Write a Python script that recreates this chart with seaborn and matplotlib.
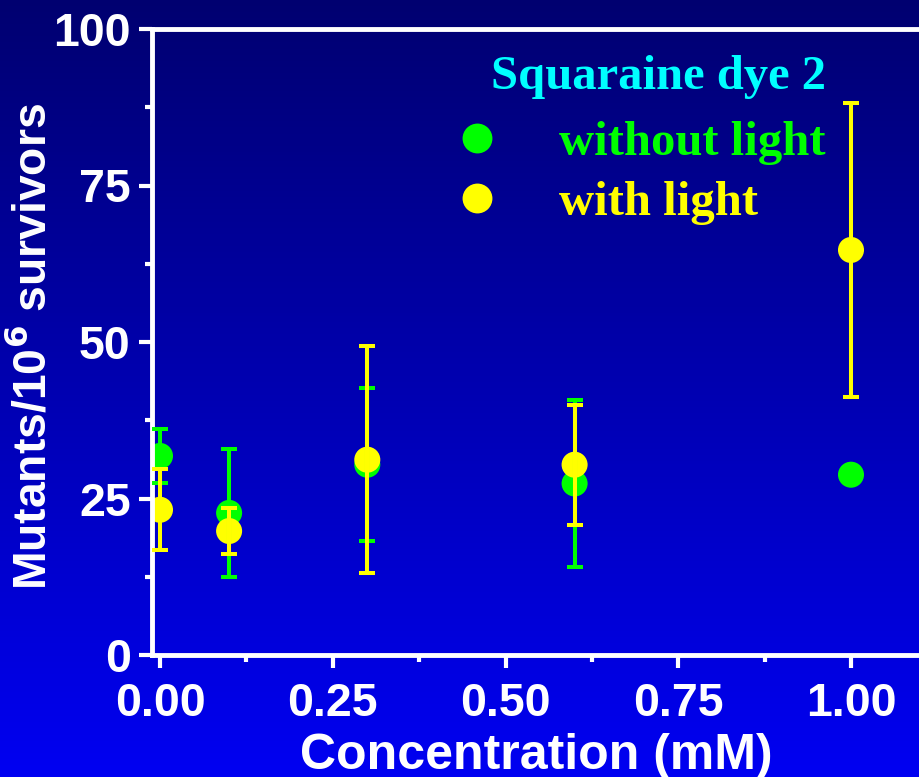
import numpy as np
import pandas as pd
import matplotlib
matplotlib.use("Agg")
import matplotlib.pyplot as plt
from matplotlib.lines import Line2D
from matplotlib.colors import LinearSegmentedColormap
import seaborn as sns

# Mutation frequency vs. dye concentration
conc = [0.0, 0.1, 0.3, 0.6, 1.0]
dark_mean = [31.8, 22.7, 30.4, 27.4, 28.8]
dark_err = [4.3, 10.2, 12.2, 13.3, 0.0]
light_mean = [23.2, 19.8, 31.2, 30.4, 64.7]
light_err = [6.5, 3.7, 18.1, 9.6, 23.5]

series_names = ["without light", "with light"]
series_colors = ["#00ff00", "#ffff00"]
legend_title = "Squaraine dye 2"
x_ticks = [0.0, 0.25, 0.5, 0.75, 1.0]
y_ticks = [0, 25, 50, 75, 100]

df = pd.DataFrame({
    "conc": conc * 2,
    "mean": dark_mean + light_mean,
    "err": dark_err + light_err,
    "group": [series_names[0]] * len(conc) + [series_names[1]] * len(conc),
})

sns.set_theme(style="white")
plt.rcParams["font.family"] = ["Liberation Sans", "DejaVu Sans"]

W, H = 920, 777
fig = plt.figure(figsize=(W / 100, H / 100), dpi=100)

# vertical navy-to-blue gradient behind everything
bg = fig.add_axes([0, 0, 1, 1], zorder=-10)
grad = np.linspace(0, 1, 256).reshape(-1, 1)
cmap = LinearSegmentedColormap.from_list("bg", ["#000070", "#0000f2"])
bg.imshow(grad, aspect="auto", cmap=cmap, extent=[0, 1, 0, 1], origin="upper")
bg.set_axis_off()

left_px, right_px, top_px, bottom_px = 152, 920, 29, 655
ax = fig.add_axes([left_px / W, 1 - bottom_px / H,
                   (right_px - left_px) / W, (bottom_px - top_px) / H])
ax.set_facecolor("none")

palette = dict(zip(series_names, series_colors))
sns.scatterplot(data=df, x="conc", y="mean", hue="group", palette=palette,
                s=26 ** 2 * 0.52, edgecolor="none", linewidth=0, ax=ax,
                legend=False, zorder=2)

for name, color in zip(series_names, series_colors):
    sub = df[df["group"] == name]
    ax.errorbar(sub["conc"], sub["mean"], yerr=sub["err"], fmt="none",
                ecolor=color, elinewidth=2.9, capsize=5.5, capthick=2.9,
                zorder=3)

# x=0 sits at pixel 160, x=1 at pixel 851
px_per_unit = (851 - 160)
ax.set_xlim(-(160 - left_px) / px_per_unit, (right_px - 160) / px_per_unit)
ax.set_ylim(0, 100)
ax.set_xticks(x_ticks)
ax.set_xticklabels([f"{v:.2f}" for v in x_ticks])
ax.set_xticks([0.125, 0.375, 0.625, 0.875], minor=True)
ax.set_yticks(y_ticks)
ax.set_yticklabels([str(v) for v in y_ticks])
ax.set_yticks([12.5, 37.5, 62.5, 87.5], minor=True)

for side in ["left", "top", "bottom"]:
    ax.spines[side].set_visible(True)
    ax.spines[side].set_color("white")
    ax.spines[side].set_linewidth(3.5)
ax.spines["right"].set_visible(False)

ax.tick_params(axis="both", which="major", direction="out", length=9.4,
               width=3, color="white", labelcolor="white", labelsize=33.5,
               pad=6, bottom=True, left=True)
ax.tick_params(axis="x", which="major", pad=10)
ax.tick_params(axis="both", which="minor", direction="out", length=5,
               width=3, color="white", bottom=True, left=True)
for lab in ax.get_xticklabels() + ax.get_yticklabels():
    lab.set_fontweight("bold")

ax.set_xlabel("Concentration (mM)", color="white", fontsize=36,
              fontweight="bold", labelpad=5)
ax.set_ylabel("Mutants/10$^{\\mathbf{6}}$ survivors", color="white",
              fontsize=33.3, fontweight="bold")
ax.yaxis.set_label_coords(-0.125, 0.493)

handles = [Line2D([], [], linestyle="none", marker="o", markersize=21.5,
                  markerfacecolor=c, markeredgewidth=0)
           for c in series_colors]
leg = ax.legend(handles, series_names, title=legend_title, loc="upper right",
                bbox_to_anchor=(0.909, 0.998), frameon=False,
                prop={"family": "Liberation Serif", "weight": "bold",
                      "size": 35},
                title_fontproperties={"family": "Liberation Serif",
                                      "weight": "bold", "size": 35},
                handletextpad=1.2, labelspacing=0.32, borderpad=0,
                handlelength=1.0, alignment="right")
# a little more room between the title and the entries
leg._legend_box.sep = 0.32 * 35 + 5
leg.get_title().set_color("#00ffff")
for txt, c in zip(leg.get_texts(), series_colors):
    txt.set_color(c)

fig.savefig("out.png", dpi=100)
